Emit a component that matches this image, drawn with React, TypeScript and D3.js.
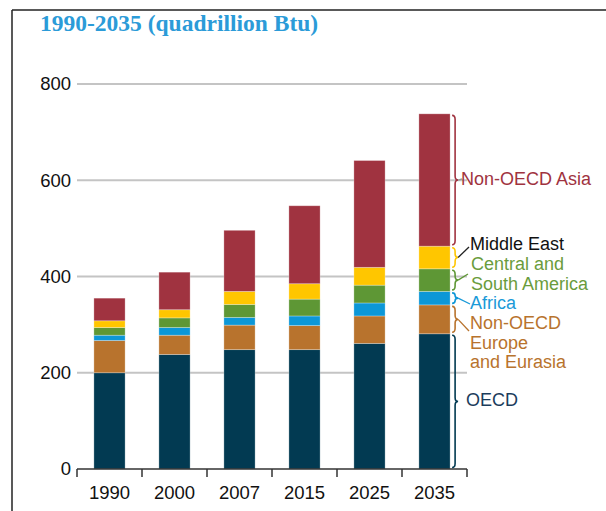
import React from "react";
import * as d3 from "d3";

const years = ["1990", "2000", "2007", "2015", "2025", "2035"];
const regions = ["OECD", "Non-OECD Europe and Eurasia", "Africa", "Central and South America", "Middle East", "Non-OECD Asia"];
const oecd = [200, 238, 248, 248, 261, 281];
const europe = [67, 40, 51, 50, 57, 60];
const africa = [11, 16, 16, 20, 27, 28];
const csa = [16, 20, 27, 35, 37, 47];
const middleEast = [14, 17, 27, 32, 37, 47];
const asia = [47, 78, 127, 162, 222, 275];
const yTicks = [0, 200, 400, 600, 800];
const title = "1990-2035 (quadrillion Btu)";

const colors = ["#023a52", "#b8732d", "#0c97d7", "#5e9735", "#ffc600", "#a03340"];
const labelColors = ["#1b3d5c", "#b8732d", "#1a9ad8", "#6a9c3c", "#111111", "#a03340"];
const labelLines: string[][] = [
  ["OECD"],
  ["Non-OECD", "Europe", "and Eurasia"],
  ["Africa"],
  ["Central and", "South America"],
  ["Middle East"],
  ["Non-OECD Asia"],
];
// annotation layout: label x, first-line centre y (px), leader end point
const labelPos = [
  { x: 466, y: 400, lx: null as number | null, ly: 0 },
  { x: 470, y: 323, lx: 469, ly: 331 },
  { x: 470, y: 303, lx: 470, ly: 304 },
  { x: 471, y: 264, lx: 468, ly: 274 },
  { x: 470, y: 244, lx: 469, ly: 247 },
  { x: 461, y: 179, lx: 462, ly: 179 },
];
const leaderColors = ["", "#b8732d", "#1a9ad8", "#5e9735", "#222", "#999"];

export default function App() {
  const W = 606, H = 511;
  const x = d3.scaleBand<string>().domain(years).range([77, 467]).paddingInner(0.52).paddingOuter(0.26);
  const xTick = d3.scaleBand<string>().domain(years).range([77, 467]).padding(0);
  const y = d3.scaleLinear().domain([0, 800]).range([469, 84]);

  const series = [oecd, europe, africa, csa, middleEast, asia];
  const rows = years.map((yr, i) => {
    const r: any = { year: yr };
    regions.forEach((k, j) => (r[k] = series[j][i]));
    return r;
  });
  const stacked = d3.stack<any>().keys(regions)(rows);

  const font = "'Liberation Sans', Arial, sans-serif";
  const last = years.length - 1;
  const bx = (x(years[last]) as number) + x.bandwidth() + 2;

  const brace = (y0: number, y1: number, ym: number) => {
    const w = 6;
    const top = y0 + 1.5, bot = y1 - 1.5;
    const r = Math.min(4, (bot - top) / 4);
    const m = bx + w / 2;
    return `M${bx},${top} Q${m},${top} ${m},${top + r} L${m},${ym - r} Q${m},${ym} ${bx + w},${ym} Q${m},${ym} ${m},${ym + r} L${m},${bot - r} Q${m},${bot} ${bx},${bot}`;
  };

  return (
    <svg width={W} height={H} style={{ position: "absolute", left: 0, top: 0, background: "#fff" }}>
      <line x1={12} x2={W} y1={10} y2={10} stroke="#222" strokeWidth={1.5} />
      <line x1={12} x2={12} y1={10} y2={H} stroke="#222" strokeWidth={1.5} />
      <text x={40} y={31} fontFamily="'Liberation Serif', 'Times New Roman', serif" fontWeight="bold" fontSize={23.5} fill="#2b9bd8">
        {title}
      </text>

      {yTicks.map((t) => (
        <g key={t}>
          {t > 0 && <line x1={77} x2={467} y1={y(t)} y2={y(t)} stroke="#c4c4c4" strokeWidth={2} />}
          <text x={71} y={y(t)} dy="0.35em" textAnchor="end" fontFamily={font} fontSize={18.5} fill="#111">
            {t}
          </text>
        </g>
      ))}

      {stacked.map((s, j) => (
        <g key={s.key}>
          {s.map((d, i) => (
            <rect
              key={i}
              x={x(years[i])}
              width={x.bandwidth()}
              y={y(d[1])}
              height={y(d[0]) - y(d[1])}
              fill={colors[j]}
              stroke="#fff"
              strokeOpacity={0.35}
              strokeWidth={0.8}
            />
          ))}
        </g>
      ))}

      <line x1={77} x2={467} y1={469} y2={469} stroke="#333" strokeWidth={1.5} />
      {[...years.map((yr) => xTick(yr) as number), 467].map((tx, i) => (
        <line key={i} x1={tx} x2={tx} y1={469} y2={477} stroke="#333" strokeWidth={1.5} />
      ))}
      {years.map((yr) => (
        <text key={yr} x={(xTick(yr) as number) + xTick.bandwidth() / 2} y={493} dy="0.35em" textAnchor="middle" fontFamily={font} fontSize={18.5} fill="#111">
          {yr}
        </text>
      ))}

      {stacked.map((s, j) => {
        const d = s[last];
        const y0 = y(d[1]), y1 = y(d[0]);
        const ym = (y0 + y1) / 2;
        const lp = labelPos[j];
        return (
          <g key={"b" + j}>
            <path d={brace(y0, y1, ym)} fill="none" stroke={colors[j]} strokeWidth={1.6} />
            {lp.lx !== null && (
              <line x1={bx + 6} y1={ym} x2={lp.lx} y2={lp.ly} stroke={leaderColors[j]} strokeWidth={1.3} />
            )}
            {labelLines[j].map((ln, k) => (
              <text key={k} x={lp.x} y={lp.y + k * 19.5} dy="0.35em" fontFamily={font} fontSize={18} fill={labelColors[j]}>
                {ln}
              </text>
            ))}
          </g>
        );
      })}
    </svg>
  );
}
